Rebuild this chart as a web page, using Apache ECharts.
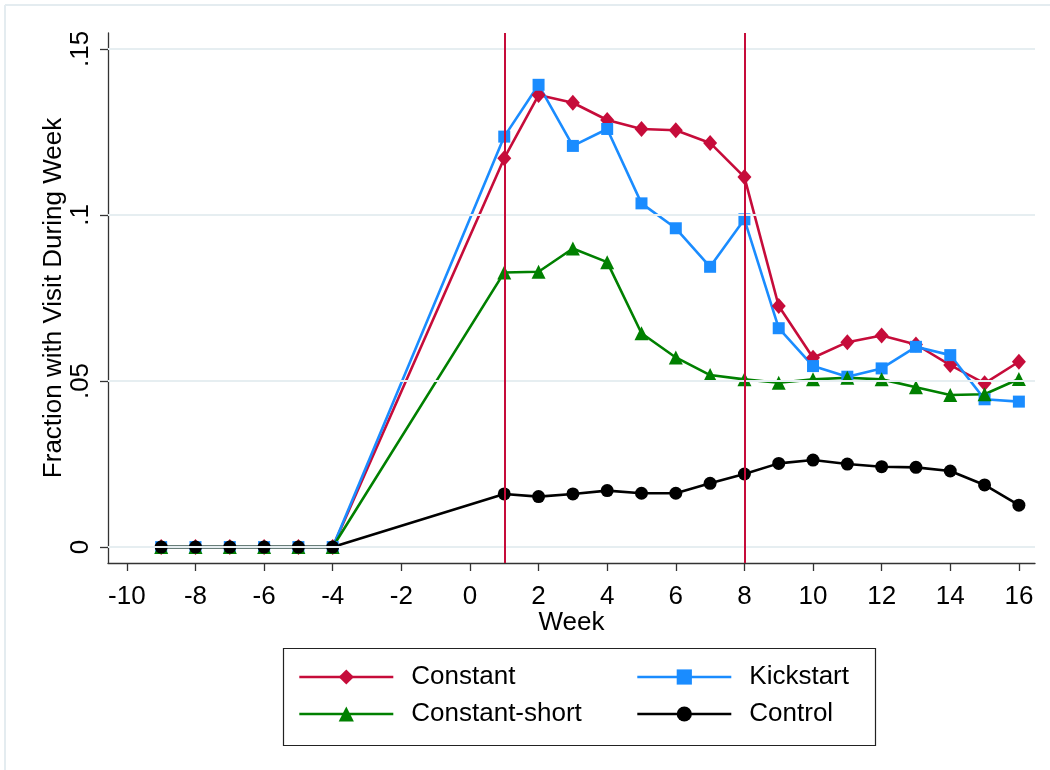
<!DOCTYPE html>
<html>
<head>
<meta charset="utf-8">
<script src="https://cdn.jsdelivr.net/npm/echarts@6/dist/echarts.min.js"></script>
<style>html,body{margin:0;padding:0;background:#fff}#c{width:1050px;height:770px}</style>
</head>
<body>
<div id="c"></div>
<script>
const weeks = [-9,-8,-7,-6,-5,-4,1,2,3,4,5,6,7,8,9,10,11,12,13,14,15,16];
const constant = [0,0,0,0,0,0,0.1171,0.1361,0.1338,0.1286,0.1259,0.1255,0.1217,0.1114,0.0726,0.0570,0.0617,0.0637,0.0610,0.0548,0.0493,0.0558];
const kickstart = [0,0,0,0,0,0,0.1236,0.1392,0.1208,0.1259,0.1035,0.0960,0.0844,0.0987,0.0659,0.0545,0.0513,0.0538,0.0603,0.0578,0.0445,0.0438];
const constantShort = [0,0,0,0,0,0,0.0827,0.0829,0.0899,0.0858,0.0644,0.0571,0.0518,0.0505,0.0495,0.0505,0.0510,0.0505,0.0481,0.0458,0.0460,0.0506];
const control = [0,0,0,0,0,0,0.0160,0.0152,0.0160,0.0170,0.0162,0.0162,0.0192,0.0220,0.0252,0.0262,0.0250,0.0242,0.0240,0.0229,0.0187,0.0126];
const xTicks = [-10,-8,-6,-4,-2,0,2,4,6,8,10,12,14,16];
const yTicks = [0,0.05,0.1,0.15];
const yTickLabels = ['0','.05','.1','.15'];
const treatmentLines = [1,8];

const FONT = '"Liberation Sans", Arial, sans-serif';
const RED = '#c60c3a', BLUE = '#1a8cff', GREEN = '#008000', BLACK = '#000000';
const pairs = arr => weeks.map((w,i)=>[w,arr[i]]);

const chart = echarts.init(document.getElementById('c'), null, {renderer:'canvas'});

function mkSeries(name, data, color, symbol, size) {
  return {
    name, type:'line', data: pairs(data), z: 3,
    symbol, symbolSize: size, showSymbol: true, showAllSymbol: true, clip: false,
    lineStyle:{color, width:2.6}, itemStyle:{color},
    emphasis:{disabled:true},
    animation:false
  };
}

function mkLegend(name, left, cy) {
  return {
    data:[name], left, top: cy-15, orient:'horizontal', padding:0,
    itemWidth:94, itemHeight:19,
    lineStyle:{width:2.6},
    textStyle:{fontSize:26, fontFamily:FONT, color:'#000', lineHeight:30, padding:[0,0,0,13]},
    selectedMode:false
  };
}

const option = {
  backgroundColor:'#fff',
  animation:false,
  textStyle:{fontFamily:FONT},
  grid:{left:108, right:15, top:33, bottom:207, containLabel:false},
  xAxis:{
    type:'value', min:-10.55, max:16.47,
    name:'Week', nameLocation:'middle', nameGap:47, nameMoveOverlap:false,
    nameTextStyle:{fontSize:26, color:'#000', fontFamily:FONT},
    axisLine:{show:true, onZero:false, lineStyle:{color:'#333', width:1.3}},
    axisTick:{show:true, customValues:xTicks, length:8, lineStyle:{color:'#333', width:1.3}},
    axisLabel:{customValues:xTicks, fontSize:26, color:'#000', margin:21, fontFamily:FONT},
    splitLine:{show:false}
  },
  yAxis:{
    type:'value', min:-0.0048, max:0.1548,
    name:'Fraction with Visit During Week', nameLocation:'middle', nameGap:41, nameMoveOverlap:false,
    nameTextStyle:{fontSize:26, color:'#000', fontFamily:FONT},
    axisLine:{show:true, onZero:false, lineStyle:{color:'#333', width:1.3}},
    axisTick:{show:true, customValues:yTicks, length:8, lineStyle:{color:'#333', width:1.3}},
    axisLabel:{customValues:yTicks, rotate:90, fontSize:26, color:'#000', margin:14, fontFamily:FONT,
      formatter:v=>{let b=0;yTicks.forEach((t,i)=>{if(Math.abs(t-v)<Math.abs(yTicks[b]-v))b=i;});return yTickLabels[b];}},
    splitLine:{show:false}
  },
  legend:[
    mkLegend('Constant',298,677),
    mkLegend('Constant-short',298,714),
    mkLegend('Kickstart',636,677),
    mkLegend('Control',636,714)
  ],
  graphic:[
    {type:'line', shape:{x1:5,y1:5,x2:1050,y2:5}, style:{stroke:'#e4ecf0', lineWidth:2}, silent:true},
    {type:'line', shape:{x1:5,y1:5,x2:5,y2:770}, style:{stroke:'#e4ecf0', lineWidth:2}, silent:true},
    {type:'rect', shape:{x:283.5,y:648.5,width:592,height:97}, style:{fill:'none', stroke:'#222', lineWidth:1.2}, silent:true, z:-1}
  ],
  series:[
    {
      name:'_ref', type:'line', data:[], z:1, silent:true,
      markLine:{
        silent:true, symbol:['none','none'], label:{show:false}, animation:false,
        data:[
          ...yTicks.map(t=>({yAxis:t, lineStyle:{color:'#e6eef1', width:2, type:'solid'}})),
          ...treatmentLines.map(t=>({xAxis:t, lineStyle:{color:RED, width:2, type:'solid'}}))
        ]
      }
    },
    mkSeries('Constant', constant, RED, 'diamond', [14,16]),
    mkSeries('Kickstart', kickstart, BLUE, 'rect', 12),
    mkSeries('Constant-short', constantShort, GREEN, 'triangle', 14),
    mkSeries('Control', control, BLACK, 'circle', 13)
  ]
};
chart.setOption(option);
</script>
</body>
</html>
